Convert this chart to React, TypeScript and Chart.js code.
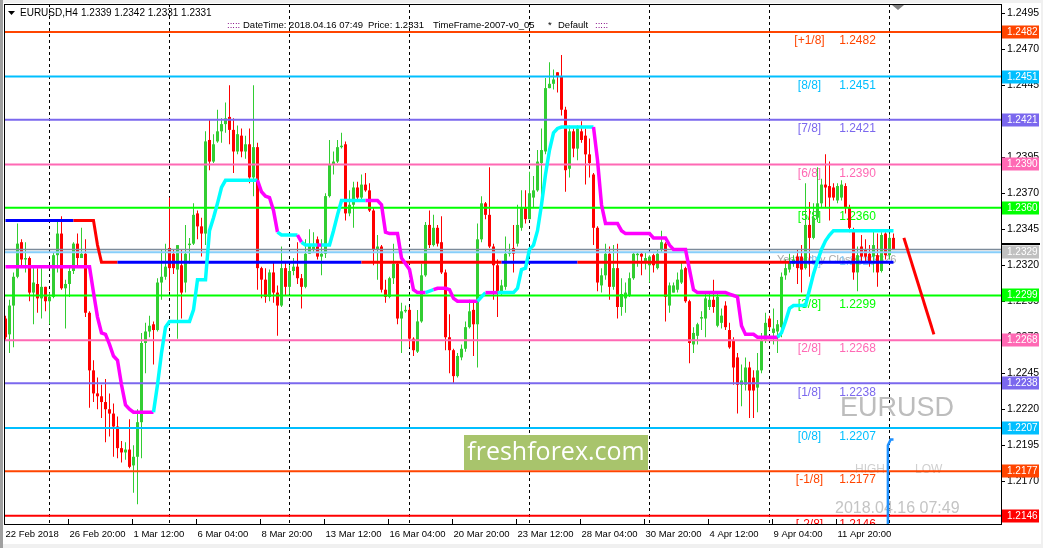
import React, { useEffect, useRef } from "react";
import { Chart, registerables } from "chart.js";

Chart.register(...registerables);

const W = 1043;
const H = 548;
const Y_MIN = 1.214031;
const Y_MAX = 1.250142;
const X_MIN = -0.375;
const X_MAX = 248.875;
const FONT = "'Liberation Sans', Arial, sans-serif";

// EURUSD H4 candles, 22 Feb 2018 04:00 .. 16 Apr 2018 04:00
const opens = [
  1.2283,1.2272,1.2292,1.2312,1.2336,1.2324,1.2325,1.2301,1.2307,1.2297,
  1.2305,1.2295,1.2298,1.2327,1.2342,1.2304,1.2307,1.2316,1.2335,1.2325,
  1.2328,1.2287,1.2247,1.2231,1.2229,1.2225,1.2220,1.2217,1.2208,1.2193,
  1.2190,1.2192,1.2181,1.2187,1.2211,1.2266,1.2274,1.2279,1.2275,1.2308,
  1.2312,1.2332,1.2328,1.2317,1.2320,1.2308,1.2334,1.2335,1.2356,1.2347,
  1.2342,1.2407,1.2392,1.2406,1.2413,1.2418,1.2423,1.2414,1.2399,1.2410,
  1.2399,1.2404,1.2381,1.2402,1.2318,1.2310,1.2298,1.2315,1.2301,1.2292,
  1.2318,1.2305,1.2316,1.2319,1.2311,1.2305,1.2328,1.2331,1.2338,1.2326,
  1.2328,1.2368,1.2390,1.2392,1.2402,1.2404,1.2356,1.2362,1.2374,1.2367,
  1.2376,1.2372,1.2358,1.2331,1.2333,1.2303,1.2298,1.2311,1.2321,1.2283,
  1.2288,1.2289,1.2269,1.2260,1.2281,1.2313,1.2348,1.2334,1.2346,1.2336,
  1.2315,1.2270,1.2261,1.2243,1.2256,1.2262,1.2277,1.2289,1.2279,1.2338,
  1.2363,1.2355,1.2333,1.2320,1.2301,1.2305,1.2328,1.2332,1.2335,1.2346,
  1.2360,1.2352,1.2367,1.2372,1.2391,1.2399,1.2443,1.2446,1.2454,1.2451,
  1.2428,1.2387,1.2413,1.2401,1.2413,1.2410,1.2397,1.2383,1.2346,1.2306,
  1.2313,1.2328,1.2305,1.2318,1.2291,1.2297,1.2299,1.2311,1.2327,1.2328,
  1.2322,1.2320,1.2327,1.2318,1.2331,1.2335,1.2292,1.2301,1.2303,1.2308,
  1.2318,1.2295,1.2265,1.2271,1.2283,1.2283,1.2291,1.2296,1.2278,1.2280,
  1.2292,1.2275,1.2268,1.2256,1.2237,1.2237,1.2249,1.2242,1.2235,1.2247,
  1.2268,1.2283,1.2273,1.2274,1.2277,1.2313,1.2317,1.2321,1.2326,1.2326,
  1.2318,1.2348,1.2339,1.2353,1.2363,1.2376,1.2375,1.2374,1.2365,1.2367,
  1.2375,1.2360,1.2345,1.2315,1.2333,1.2331,1.2328,1.2326,1.2327,1.2316,
  1.2342,1.2327,1.2339,
];
const highs = [
  1.2285,1.2296,1.2315,1.2349,1.2338,1.2336,1.2326,1.2319,1.2318,1.2318,
  1.2305,1.2301,1.2329,1.2350,1.2354,1.2310,1.2319,1.2336,1.2342,1.2346,
  1.2338,1.2288,1.2254,1.2242,1.2237,1.2241,1.2231,1.2224,1.2215,1.2198,
  1.2197,1.2213,1.2195,1.2220,1.2273,1.2280,1.2285,1.2281,1.2311,1.2331,
  1.2335,1.2367,1.2331,1.2334,1.2331,1.2348,1.2339,1.2363,1.2358,1.2353,
  1.2413,1.2421,1.2411,1.2428,1.2422,1.2433,1.2445,1.2422,1.2417,1.2415,
  1.2410,1.2415,1.2445,1.2405,1.2319,1.2318,1.2317,1.2322,1.2306,1.2333,
  1.2322,1.2320,1.2325,1.2336,1.2314,1.2338,1.2345,1.2343,1.2340,1.2338,
  1.2370,1.2407,1.2399,1.2407,1.2412,1.2406,1.2372,1.2378,1.2378,1.2383,
  1.2384,1.2377,1.2360,1.2341,1.2334,1.2310,1.2312,1.2335,1.2322,1.2294,
  1.2292,1.2291,1.2270,1.2289,1.2321,1.2350,1.2358,1.2355,1.2348,1.2354,
  1.2317,1.2286,1.2262,1.2259,1.2265,1.2281,1.2296,1.2294,1.2349,1.2368,
  1.2364,1.2388,1.2335,1.2324,1.2310,1.2340,1.2335,1.2348,1.2362,1.2372,
  1.2372,1.2385,1.2382,1.2400,1.2415,1.2450,1.2461,1.2456,1.2454,1.2466,
  1.2430,1.2417,1.2415,1.2417,1.2420,1.2415,1.2408,1.2384,1.2347,1.2318,
  1.2335,1.2333,1.2334,1.2335,1.2311,1.2308,1.2315,1.2329,1.2329,1.2329,
  1.2329,1.2327,1.2328,1.2331,1.2344,1.2336,1.2308,1.2308,1.2315,1.2322,
  1.2319,1.2296,1.2277,1.2280,1.2288,1.2301,1.2301,1.2310,1.2301,1.2290,
  1.2295,1.2280,1.2270,1.2259,1.2251,1.2256,1.2253,1.2247,1.2259,1.2273,
  1.2287,1.2285,1.2290,1.2282,1.2315,1.2324,1.2328,1.2327,1.2331,1.2334,
  1.2377,1.2364,1.2363,1.2388,1.2380,1.2397,1.2392,1.2377,1.2377,1.2379,
  1.2377,1.2362,1.2346,1.2333,1.2341,1.2338,1.2334,1.2344,1.2342,1.2343,
  1.2343,1.2342,1.2342,
];
const lows = [
  1.2268,1.2259,1.2263,1.2311,1.2320,1.2315,1.2295,1.2279,1.2287,1.2283,
  1.2288,1.2279,1.2297,1.2315,1.2303,1.2276,1.2298,1.2314,1.2320,1.2325,
  1.2284,1.2221,1.2225,1.2220,1.2214,1.2197,1.2201,1.2187,1.2186,1.2183,
  1.2185,1.2179,1.2162,1.2154,1.2186,1.2245,1.2270,1.2251,1.2274,1.2296,
  1.2310,1.2302,1.2314,1.2269,1.2283,1.2301,1.2321,1.2334,1.2338,1.2326,
  1.2334,1.2386,1.2391,1.2405,1.2405,1.2412,1.2404,1.2384,1.2397,1.2395,
  1.2394,1.2377,1.2368,1.2303,1.2297,1.2294,1.2295,1.2294,1.2271,1.2291,
  1.2299,1.2300,1.2313,1.2307,1.2290,1.2304,1.2328,1.2329,1.2324,1.2313,
  1.2325,1.2367,1.2383,1.2391,1.2401,1.2351,1.2354,1.2346,1.2365,1.2365,
  1.2371,1.2357,1.2320,1.2310,1.2301,1.2294,1.2297,1.2307,1.2279,1.2259,
  1.2287,1.2263,1.2257,1.2259,1.2280,1.2312,1.2332,1.2333,1.2333,1.2314,
  1.2261,1.2245,1.2238,1.2242,1.2254,1.2260,1.2276,1.2257,1.2249,1.2336,
  1.2352,1.2332,1.2296,1.2284,1.2299,1.2303,1.2326,1.2315,1.2333,1.2344,
  1.2349,1.2352,1.2360,1.2371,1.2365,1.2397,1.2443,1.2442,1.2440,1.2424,
  1.2371,1.2381,1.2395,1.2393,1.2405,1.2376,1.2381,1.2334,1.2302,1.2301,
  1.2310,1.2296,1.2303,1.2283,1.2285,1.2287,1.2298,1.2310,1.2319,1.2313,
  1.2317,1.2308,1.2315,1.2317,1.2329,1.2281,1.2287,1.2301,1.2301,1.2307,
  1.2294,1.2252,1.2259,1.2265,1.2275,1.2270,1.2289,1.2287,1.2277,1.2276,
  1.2275,1.2262,1.2237,1.2217,1.2222,1.2233,1.2214,1.2214,1.2218,1.2245,
  1.2266,1.2275,1.2265,1.2259,1.2270,1.2310,1.2315,1.2319,1.2307,1.2301,
  1.2317,1.2312,1.2338,1.2350,1.2360,1.2360,1.2351,1.2365,1.2363,1.2365,
  1.2356,1.2343,1.2310,1.2302,1.2322,1.2322,1.2319,1.2315,1.2305,1.2315,
  1.2324,1.2324,1.2331,
];
const closes = [
  1.2270,1.2292,1.2312,1.2335,1.2324,1.2325,1.2301,1.2308,1.2297,1.2305,
  1.2295,1.2298,1.2327,1.2342,1.2304,1.2307,1.2316,1.2335,1.2325,1.2328,
  1.2287,1.2247,1.2231,1.2229,1.2225,1.2220,1.2217,1.2208,1.2193,1.2190,
  1.2192,1.2180,1.2187,1.2211,1.2266,1.2274,1.2278,1.2275,1.2308,1.2312,
  1.2319,1.2318,1.2318,1.2334,1.2301,1.2328,1.2335,1.2355,1.2347,1.2342,
  1.2406,1.2392,1.2404,1.2413,1.2418,1.2422,1.2414,1.2399,1.2411,1.2399,
  1.2404,1.2381,1.2402,1.2318,1.2310,1.2298,1.2315,1.2301,1.2292,1.2318,
  1.2305,1.2316,1.2319,1.2311,1.2305,1.2328,1.2334,1.2333,1.2326,1.2328,
  1.2368,1.2390,1.2392,1.2402,1.2403,1.2356,1.2362,1.2374,1.2367,1.2376,
  1.2372,1.2358,1.2331,1.2333,1.2303,1.2298,1.2311,1.2321,1.2283,1.2288,
  1.2289,1.2269,1.2261,1.2281,1.2313,1.2348,1.2334,1.2346,1.2335,1.2315,
  1.2270,1.2261,1.2243,1.2257,1.2262,1.2277,1.2288,1.2279,1.2338,1.2363,
  1.2355,1.2333,1.2320,1.2301,1.2306,1.2328,1.2329,1.2328,1.2348,1.2360,
  1.2352,1.2370,1.2372,1.2392,1.2400,1.2443,1.2446,1.2449,1.2451,1.2428,
  1.2386,1.2413,1.2401,1.2415,1.2407,1.2397,1.2391,1.2346,1.2308,1.2313,
  1.2328,1.2305,1.2318,1.2291,1.2300,1.2301,1.2311,1.2328,1.2328,1.2326,
  1.2325,1.2326,1.2320,1.2328,1.2336,1.2298,1.2306,1.2306,1.2310,1.2317,
  1.2295,1.2266,1.2273,1.2279,1.2284,1.2297,1.2296,1.2291,1.2298,1.2285,
  1.2277,1.2263,1.2249,1.2237,1.2240,1.2249,1.2233,1.2233,1.2247,1.2268,
  1.2280,1.2277,1.2276,1.2279,1.2312,1.2318,1.2322,1.2324,1.2318,1.2317,
  1.2348,1.2339,1.2353,1.2363,1.2376,1.2374,1.2367,1.2367,1.2375,1.2376,
  1.2360,1.2346,1.2315,1.2327,1.2326,1.2326,1.2322,1.2334,1.2315,1.2341,
  1.2327,1.2339,1.2331,
];

// Step-trend indicator line (magenta = down, cyan = up)
const trendValues = [
  1.2319,1.2319,1.2319,1.2319,1.2319,1.2319,1.2319,1.2319,1.2319,1.2319,
  1.2319,1.2319,1.2319,1.2319,1.2319,1.2319,1.2319,1.2319,1.2319,1.2319,
  1.2319,1.2319,1.2301,1.2284,1.2273,1.2272,1.2265,1.2257,1.2254,1.2237,
  1.2223,1.2220,1.2218,1.2218,1.2218,1.2218,1.2218,1.2218,1.2237,1.2259,
  1.2277,1.2281,1.2281,1.2281,1.2281,1.2281,1.2281,1.2289,1.2310,1.2310,
  1.2310,1.2344,1.2353,1.2363,1.2374,1.2379,1.2379,1.2379,1.2379,1.2379,
  1.2379,1.2379,1.2379,1.2379,1.2371,1.2368,1.2367,1.2358,1.2343,1.2341,
  1.2341,1.2341,1.2341,1.2341,1.2336,1.2334,1.2334,1.2334,1.2334,1.2334,
  1.2334,1.2334,1.2344,1.2355,1.2365,1.2365,1.2365,1.2365,1.2365,1.2365,
  1.2365,1.2365,1.2365,1.2365,1.2362,1.2343,1.2342,1.2342,1.2342,1.2325,
  1.2321,1.2317,1.2303,1.2301,1.2301,1.2301,1.2302,1.2303,1.2304,1.2304,
  1.2304,1.2303,1.2297,1.2295,1.2295,1.2295,1.2295,1.2295,1.2295,1.2298,
  1.2301,1.2301,1.2301,1.2301,1.2301,1.2301,1.2301,1.2301,1.2304,1.2317,
  1.2318,1.2331,1.2334,1.2344,1.2362,1.2383,1.2400,1.2412,1.2415,1.2416,
  1.2416,1.2416,1.2416,1.2416,1.2416,1.2416,1.2416,1.2416,1.2393,1.2362,
  1.2349,1.2349,1.2349,1.2349,1.2344,1.2342,1.2342,1.2342,1.2342,1.2342,
  1.2342,1.2342,1.2339,1.2339,1.2339,1.2339,1.2334,1.2331,1.2331,1.2331,
  1.2331,1.2317,1.2303,1.2301,1.2301,1.2301,1.2301,1.2301,1.2301,1.2301,
  1.2301,1.2300,1.2299,1.2298,1.2278,1.2272,1.2272,1.2272,1.2270,1.2270,
  1.2270,1.2270,1.2270,1.2270,1.2273,1.2281,1.2290,1.2292,1.2292,1.2292,
  1.2292,1.2303,1.2314,1.2323,1.2331,1.2337,1.2341,1.2344,1.2344,1.2344,
  1.2344,1.2344,1.2344,1.2344,1.2344,1.2344,1.2344,1.2344,1.2344,1.2344,
  1.2344,1.2344,1.2344,
];
// [last bar index of run, "m" magenta | "c" cyan]
const trendColorRuns: [number, string][] = [
  [37, "m"], [63, "c"], [68, "m"], [73, "c"], [74, "m"], [78, "c"], [79, "m"],
  [90, "c"], [105, "m"], [107, "c"], [118, "m"], [120, "c"], [123, "m"],
  [147, "c"], [193, "m"], [222, "c"],
];
// thick blue/red horizontal line: [last bar index, value]
const pivotValueRuns: [number, number][] = [[22, 1.2351], [23, 1.2334], [222, 1.2322]];
const pivotColorRuns: [number, string][] = [
  [17, "b"], [28, "r"], [89, "b"], [124, "r"], [143, "b"], [196, "r"], [222, "b"],
];

const timeTickIndex = [0, 16, 32, 48, 64, 80, 96, 112, 128, 144, 160, 176, 192, 208];
const timeTickLabels = [
  "22 Feb 2018", "26 Feb 20:00", "1 Mar 12:00", "6 Mar 04:00", "8 Mar 20:00",
  "13 Mar 12:00", "16 Mar 04:00", "20 Mar 20:00", "23 Mar 12:00", "28 Mar 04:00",
  "30 Mar 20:00", "4 Apr 12:00", "9 Apr 04:00", "11 Apr 20:00",
];
const weekStartIndex = [11, 41, 71, 101, 131, 161, 191, 221];
const priceTicks = [
  1.2145, 1.2170, 1.2195, 1.2220, 1.2245, 1.2270, 1.2295, 1.2320, 1.2345,
  1.2370, 1.2395, 1.2420, 1.2445, 1.2470, 1.2495,
];

// Murrey math levels
const levelValues = [1.2482, 1.2451, 1.2421, 1.2390, 1.2360, 1.2329, 1.2299, 1.2268, 1.2238, 1.2207, 1.2177, 1.2146];
const levelNames = ["[+1/8]", "[8/8]", "[7/8]", "[6/8]", "[5/8]", "[4/8]", "[3/8]", "[2/8]", "[1/8]", "[0/8]", "[-1/8]", "[-2/8]"];
const levelColors = ["#FF4500", "#00BFFF", "#7B68EE", "#FF69B4", "#00FF00", "#87CEFA", "#00FF00", "#FF69B4", "#7B68EE", "#00BFFF", "#FF4500", "#FF0000"];
const levelBoxColors = ["#FF4500", "#00BFFF", "#7B68EE", "#FF69B4", "#00FF00", "#C0C0C0", "#00FF00", "#FF69B4", "#7B68EE", "#00BFFF", "#FF4500", "#FF0000"];
const levelNameIndex = 201;
const levelValueIndex = 213;
const bidPrice = 1.2331;

const forecastX = [224.6, 232.1];
const forecastY = [1.2339, 1.2272];
const markerX = [220.6, 220.6, 221.3, 222.0];
const markerY = [1.2130, 1.2195, 1.2199, 1.2199];

function runLookup<T>(runs: [number, T][], i: number): T {
  for (const r of runs) if (i <= r[0]) return r[1];
  return runs[runs.length - 1][1];
}

function zeroPad(s: any) {
  s.paddingTop = 0;
  s.paddingBottom = 0;
  s.paddingLeft = 0;
  s.paddingRight = 0;
}

const mt4Plugin = {
  id: "mt4decor",
  beforeDraw(chart: any) {
    const ctx = chart.ctx;
    ctx.save();
    ctx.fillStyle = "#ffffff";
    ctx.fillRect(0, 0, W, H);
    ctx.fillStyle = "#f0f0f0";
    ctx.fillRect(0, 0, W, 3);
    ctx.fillRect(0, H - 4, W, 4);
    ctx.fillRect(W - 2, 0, 2, H);
    ctx.fillStyle = "#a0a0a0";
    ctx.fillRect(0, 0, 3, H);
    ctx.restore();
  },
  beforeDatasetsDraw(chart: any) {
    const { ctx, chartArea: a, scales } = chart;
    const xs = scales.x;
    const ys = scales.y;
    ctx.save();
    ctx.beginPath();
    ctx.rect(a.left, a.top, a.right - a.left, a.bottom - a.top);
    ctx.clip();
    // weekly separators
    ctx.strokeStyle = "#000";
    ctx.lineWidth = 1;
    ctx.setLineDash([3, 3]);
    for (const i of weekStartIndex) {
      const x = Math.floor(xs.getPixelForValue(i)) + 0.5;
      ctx.beginPath();
      ctx.moveTo(x, a.top);
      ctx.lineTo(x, a.bottom);
      ctx.stroke();
    }
    ctx.setLineDash([]);
    // watermark
    ctx.fillStyle = "#A8C46C";
    ctx.fillRect(464, 435, 184, 35);
    ctx.fillStyle = "#ffffff";
    ctx.font = "25px 'Open Sans', sans-serif";
    ctx.textAlign = "center";
    ctx.textBaseline = "middle";
    ctx.fillText("freshforex.com", 556, 453);
    // symbol name
    ctx.fillStyle = "#BDBDBD";
    ctx.font = `27px ${FONT}`;
    ctx.textAlign = "left";
    ctx.fillText("EURUSD", 840, 409);
    ctx.fillStyle = "#CFCFCF";
    ctx.font = `12px ${FONT}`;
    ctx.fillText("HIGH", 855, 470);
    ctx.fillText("LOW", 915, 470);
    ctx.fillStyle = "#C4C4C4";
    ctx.font = `16px ${FONT}`;
    ctx.fillText("2018.04.16 07:49", 835, 509);
    // yesterday close text
    ctx.fillStyle = "#A9A9A9";
    ctx.font = `11px ${FONT}`;
    ctx.fillText("Yesterday Close: 1.2326", 777, 260);
    // level labels
    ctx.font = `12px ${FONT}`;
    ctx.textAlign = "center";
    const nx = xs.getPixelForValue(levelNameIndex);
    const vx = xs.getPixelForValue(levelValueIndex);
    levelValues.forEach((v, k) => {
      const y = ys.getPixelForValue(v) + 9;
      ctx.fillStyle = levelColors[k];
      ctx.fillText(levelNames[k], nx, y);
      ctx.fillText(v.toFixed(4), vx, y);
    });
    ctx.restore();
  },
  afterDraw(chart: any) {
    const { ctx, chartArea: a, scales } = chart;
    const xs = scales.x;
    const ys = scales.y;
    ctx.save();
    // frame
    ctx.strokeStyle = "#000";
    ctx.lineWidth = 1;
    ctx.strokeRect(a.left + 0.5, a.top + 0.5, a.right - a.left, a.bottom - a.top);
    // time tick marks
    for (const i of timeTickIndex) {
      const x = Math.floor(xs.getPixelForValue(i)) - 0.5;
      ctx.beginPath();
      ctx.moveTo(x, a.bottom - 5);
      ctx.lineTo(x, a.bottom);
      ctx.stroke();
    }
    // price tick marks
    for (const v of priceTicks) {
      const y = Math.round(ys.getPixelForValue(v)) + 0.5;
      ctx.beginPath();
      ctx.moveTo(a.right + 1, y);
      ctx.lineTo(a.right + 4, y);
      ctx.stroke();
    }
    // level boxes on price axis
    ctx.font = `10px ${FONT}`;
    ctx.textAlign = "left";
    ctx.textBaseline = "middle";
    levelValues.forEach((v, k) => {
      const y = Math.round(ys.getPixelForValue(v));
      ctx.fillStyle = levelBoxColors[k];
      ctx.fillRect(a.right + 1, y - 6.5, 37, 13);
      if (k === 5) {
        ctx.fillStyle = "#000";
        ctx.fillRect(a.right + 1, y - 9, 38, 2);
      }
      ctx.fillStyle = "#ffffff";
      ctx.fillText(v.toFixed(4), a.right + 6, y + 0.5);
    });
    // header
    ctx.fillStyle = "#000";
    ctx.beginPath();
    ctx.moveTo(8, 11);
    ctx.lineTo(15, 11);
    ctx.lineTo(11.5, 15);
    ctx.closePath();
    ctx.fill();
    ctx.font = `10px ${FONT}`;
    ctx.fillText("EURUSD,H4", 20, 13);
    ctx.fillText("1.2339 1.2342 1.2331 1.2331", 81, 13);
    const hy = 25;
    ctx.font = `9.5px ${FONT}`;
    ctx.fillStyle = "#800080";
    ctx.fillText(":::::", 227, hy);
    ctx.fillText(":::::", 595, hy);
    ctx.fillStyle = "#000";
    ctx.fillText("DateTime: 2018.04.16 07:49", 243, hy);
    ctx.fillText("Price: 1.2331", 368, hy);
    ctx.fillText("TimeFrame-2007-v0_05", 433, hy);
    ctx.fillText("*", 548, hy);
    ctx.fillText("Default", 558, hy);
    // shift marker
    ctx.fillStyle = "#808080";
    ctx.beginPath();
    ctx.moveTo(892, 5);
    ctx.lineTo(904, 5);
    ctx.lineTo(898, 10);
    ctx.closePath();
    ctx.fill();
    ctx.restore();
  },
};

export default function App() {
  const ref = useRef<HTMLCanvasElement>(null);

  useEffect(() => {
    const canvas = ref.current;
    if (!canvas) return;
    const n = opens.length;
    const idx = Array.from({ length: n }, (_, i) => i);
    const colors = idx.map((i) => (closes[i] >= opens[i] ? "#32CD32" : "#FF0000"));
    const trendColor = (i: number) => (runLookup(trendColorRuns, i) === "c" ? "#00FFFF" : "#FF00FF");
    const pivotColor = (i: number) => (runLookup(pivotColorRuns, i) === "b" ? "#0000FF" : "#FF0000");

    const levelDatasets = levelValues.map((v, k) => ({
      type: "line",
      data: [{ x: -2, y: v }, { x: 260, y: v }],
      borderColor: levelColors[k],
      borderWidth: 2,
      pointRadius: 0,
      order: 10,
    }));

    const chart = new Chart(canvas, {
      type: "bar",
      data: {
        datasets: [
          {
            type: "bar",
            data: idx.map((i) => ({
              x: i,
              y: [Math.min(lows[i], opens[i], closes[i]), Math.max(highs[i], opens[i], closes[i])],
            })),
            backgroundColor: colors,
            borderWidth: 0,
            barThickness: 1,
            grouped: false,
            inflateAmount: 0,
            order: 20,
          },
          {
            type: "bar",
            data: idx.map((i) => ({ x: i, y: [opens[i], closes[i]] })),
            backgroundColor: colors,
            borderWidth: 0,
            barThickness: 3,
            grouped: false,
            minBarLength: 1,
            inflateAmount: 0,
            order: 19,
          },
          ...levelDatasets,
          {
            type: "line",
            data: [{ x: -2, y: bidPrice }, { x: 260, y: bidPrice }],
            borderColor: "#7C8B9A",
            borderWidth: 1.5,
            pointRadius: 0,
            order: 9,
          },
          {
            type: "line",
            data: idx.map((i) => ({ x: i, y: runLookup(pivotValueRuns, i) })),
            borderColor: "#0000FF",
            borderWidth: 3,
            pointRadius: 0,
            segment: { borderColor: (c: any) => pivotColor(c.p1DataIndex) },
            order: 4,
          },
          {
            type: "line",
            data: idx.map((i) => ({ x: i, y: trendValues[i] })),
            borderColor: "#FF00FF",
            borderWidth: 3.5,
            pointRadius: 0,
            segment: { borderColor: (c: any) => trendColor(c.p1DataIndex) },
            order: 3,
          },
          {
            type: "line",
            data: markerX.map((x, k) => ({ x, y: markerY[k] })),
            borderColor: "#1E90FF",
            borderWidth: 2.5,
            pointRadius: 0,
            order: 2,
          },
          {
            type: "line",
            data: forecastX.map((x, k) => ({ x, y: forecastY[k] })),
            borderColor: "#FF0000",
            borderWidth: 3,
            pointRadius: 0,
            order: 2,
          },
        ] as any,
      },
      options: {
        responsive: false,
        animation: false,
        devicePixelRatio: 1,
        events: [],
        layout: { padding: { left: 4, top: 4, right: 0, bottom: 0 } },
        plugins: { legend: { display: false }, tooltip: { enabled: false } },
        scales: {
          x: {
            type: "linear",
            offset: false,
            min: X_MIN,
            max: X_MAX,
            position: "bottom",
            grid: { display: false, drawTicks: false, offset: false },
            border: { display: false },
            afterBuildTicks: (s: any) => {
              s.ticks = timeTickIndex.map((v) => ({ value: v }));
            },
            afterFit: (s: any) => {
              s.height = 24;
              zeroPad(s);
            },
            ticks: {
              autoSkip: false,
              maxRotation: 0,
              minRotation: 0,
              align: "start",
              padding: 5,
              color: "#000",
              font: { family: FONT, size: 9.5 },
              callback: (_v: any, k: number) => timeTickLabels[k] ?? "",
            },
          },
          y: {
            type: "linear",
            position: "right",
            offset: false,
            min: Y_MIN,
            max: Y_MAX,
            grid: { display: false, drawTicks: false },
            border: { display: false },
            afterBuildTicks: (s: any) => {
              s.ticks = priceTicks.map((v) => ({ value: v }));
            },
            afterFit: (s: any) => {
              s.width = 42;
              zeroPad(s);
            },
            ticks: {
              autoSkip: false,
              padding: 6,
              color: "#000",
              font: { family: FONT, size: 10.5 },
              callback: (v: any) => Number(v).toFixed(4),
            },
          },
        },
      } as any,
      plugins: [mt4Plugin],
    });
    return () => chart.destroy();
  }, []);

  return (
    <div style={{ position: "fixed", left: 0, top: 0, width: W, height: H, background: "#fff" }}>
      <canvas ref={ref} width={W} height={H} style={{ display: "block", width: W, height: H }} />
    </div>
  );
}
